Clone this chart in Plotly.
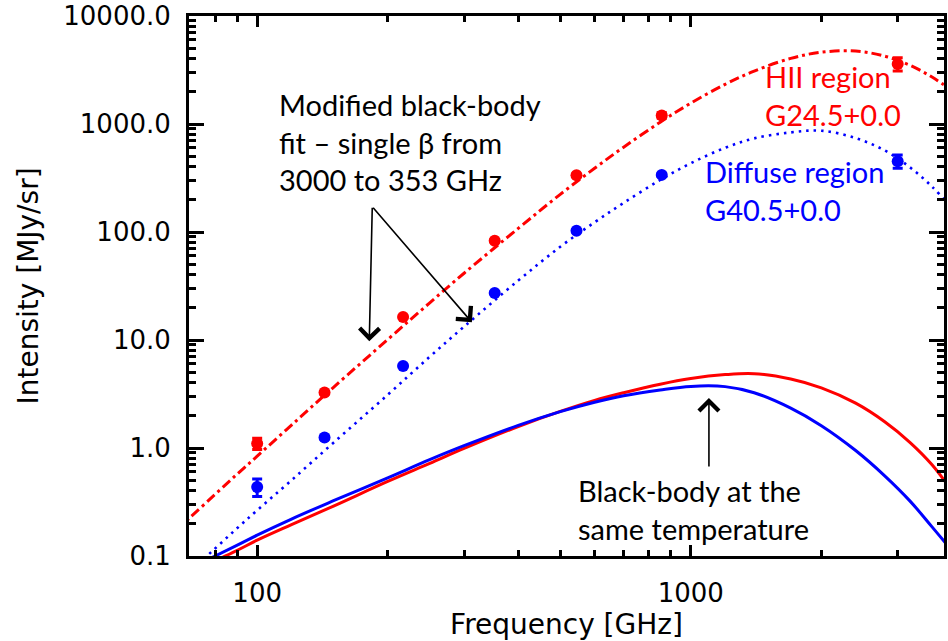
import plotly.graph_objects as go

# ---------------- data ----------------
obs_freq = [100, 143, 217, 353, 545, 857, 3000]
hii_obs = [1.10, 3.26, 16.3, 83.0, 336.0, 1200.0, 3600.0]
hii_err = [0.13, 0.10, 0.40, 2.0, 8.0, 70.0, 500.0]
diffuse_obs = [0.435, 1.25, 5.74, 27.3, 102.6, 338.0, 453.0]
diffuse_err = [0.08, 0.04, 0.15, 0.7, 2.5, 12.0, 63.0]

curve_freq = [65, 70, 80, 90, 100, 120, 150, 200, 250, 300, 400, 500, 600, 700,
              850, 1000, 1200, 1400, 1700, 2000, 2400, 2800, 3200, 3600, 4000]
hii_mbb = [0.174, 0.227, 0.372, 0.575, 0.84, 1.63, 3.65, 10.1, 22.1, 41.5, 108, 223,
           389, 610, 1040, 1560, 2330, 3090, 4050, 4620, 4730, 4250, 3500, 2720, 2050]
diffuse_mbb = [0.0545, 0.0716, 0.1175, 0.1815, 0.265, 0.503, 1.12, 3.11, 7.0, 13.3,
               35.5, 73, 123, 186, 303, 433, 602, 736, 836, 867, 741, 569, 398, 263, 166]
hii_bb = [0.06, 0.069, 0.09, 0.113, 0.14, 0.195, 0.29, 0.49, 0.72, 0.99, 1.58, 2.18,
          2.76, 3.25, 3.9, 4.4, 4.78, 4.88, 4.35, 3.6, 2.6, 1.75, 1.13, 0.70, 0.40]
diffuse_bb = [0.066, 0.0764, 0.1, 0.126, 0.156, 0.22, 0.325, 0.53, 0.78, 1.05, 1.62,
              2.17, 2.65, 3.05, 3.45, 3.72, 3.70, 3.25, 2.34, 1.61, 0.948, 0.553, 0.324,
              0.186, 0.112]

x_major = [100, 1000]
x_major_text = ["100", "1000"]
x_minor = [70, 80, 90, 200, 300, 400, 500, 600, 700, 800, 900, 2000, 3000]
y_major = [0.1, 1, 10, 100, 1000, 10000]
y_major_text = ["0.1", "1.0", "10.0", "100.0", "1000.0", "10000.0"]
y_minor = [m * d for d in [0.1, 1, 10, 100, 1000] for m in range(2, 10)]

RED = "#FF0000"
BLUE = "#0000FF"

fig = go.Figure()

fig.add_trace(go.Scatter(x=curve_freq, y=hii_mbb, mode="lines", line_shape="spline",
                         line=dict(color=RED, width=3, dash="10px,4px,3px,4px")))
fig.add_trace(go.Scatter(x=curve_freq, y=diffuse_mbb, mode="lines", line_shape="spline",
                         line=dict(color=BLUE, width=2.6, dash="2.5px,5px")))
fig.add_trace(go.Scatter(x=curve_freq, y=hii_bb, mode="lines", line_shape="spline",
                         line=dict(color=RED, width=3)))
fig.add_trace(go.Scatter(x=curve_freq, y=diffuse_bb, mode="lines", line_shape="spline",
                         line=dict(color=BLUE, width=3)))

fig.add_trace(go.Scatter(x=obs_freq, y=hii_obs, mode="markers",
                         marker=dict(color=RED, size=12),
                         error_y=dict(type="data", array=hii_err, color=RED,
                                      thickness=3, width=5)))
fig.add_trace(go.Scatter(x=obs_freq, y=diffuse_obs, mode="markers",
                         marker=dict(color=BLUE, size=12),
                         error_y=dict(type="data", array=diffuse_err, color=BLUE,
                                      thickness=3, width=5)))

L, R, T, B = 189, 1, 13, 85
W, H = 948, 641
pw, ph = W - L - R, H - T - B


def px(xp):
    return (xp - L) / pw


def py(yp):
    return (H - B - yp) / ph


TXT = dict(family="Lato", size=29)
annotations = [
    dict(text="Modified black-body<br>fit – single β from<br>3000 to 353 GHz",
         x=px(277), y=py(140), xanchor="left", yanchor="middle", align="left",
         font=dict(color="black", **TXT)),
    dict(text="HII region<br>G24.5+0.0", x=px(765), y=py(93), xanchor="left",
         yanchor="middle", align="left", font=dict(color=RED, **TXT)),
    dict(text="Diffuse region<br>G40.5+0.0", x=px(705), y=py(188), xanchor="left",
         yanchor="middle", align="left", font=dict(color=BLUE, **TXT)),
    dict(text="Black-body at the<br>same temperature", x=px(578), y=py(509),
         xanchor="left", yanchor="middle", align="left", font=dict(color="black", **TXT)),
]
for a in annotations:
    a.update(xref="paper", yref="paper", showarrow=False)

arrows = [((370, 340), (373, 205)), ((473, 321), (373, 205)), ((711, 397), (711, 467))]
for (hx, hy), (tx, ty) in arrows:
    annotations.append(dict(x=px(hx), y=py(hy), xref="paper", yref="paper", text="",
                            showarrow=True, ax=tx - hx, ay=ty - hy, arrowhead=4,
                            arrowsize=2.4, arrowwidth=1.6, arrowcolor="black",
                            standoff=0, startstandoff=0))

TICKFONT = dict(family="DejaVu Sans", size=26, color="black")
TITLEFONT = dict(family="DejaVu Sans", size=28, color="black")

fig.update_layout(
    width=W, height=H, margin=dict(l=L, r=R, t=T, b=B),
    paper_bgcolor="white", plot_bgcolor="white", showlegend=False,
    annotations=annotations,
    xaxis=dict(type="log", range=[1.8428, 3.5839], showgrid=False, zeroline=False,
               showline=True, linecolor="black", linewidth=3, mirror="allticks",
               ticks="inside", ticklen=11, tickwidth=2.5, tickcolor="black",
               tickvals=x_major, ticktext=x_major_text, tickfont=TICKFONT,
               ticklabelstandoff=12, ticklabeloverflow="allow",
               minor=dict(ticks="inside", ticklen=6, tickwidth=2.5, tickcolor="black",
                          tickvals=x_minor, showgrid=False),
               title=dict(text="Frequency [GHz]", font=TITLEFONT, standoff=2)),
    yaxis=dict(type="log", range=[-1, 4], showgrid=False, zeroline=False,
               showline=True, linecolor="black", linewidth=3, mirror="allticks",
               ticks="inside", ticklen=15, tickwidth=2.5, tickcolor="black",
               tickvals=y_major, ticktext=y_major_text, tickfont=TICKFONT,
               ticklabelstandoff=10, ticklabeloverflow="allow",
               minor=dict(ticks="inside", ticklen=7, tickwidth=2.5, tickcolor="black",
                          tickvals=y_minor, showgrid=False),
               title=dict(text="Intensity [MJy/sr]", font=TITLEFONT, standoff=17)),
)

fig.write_html("out.html")
